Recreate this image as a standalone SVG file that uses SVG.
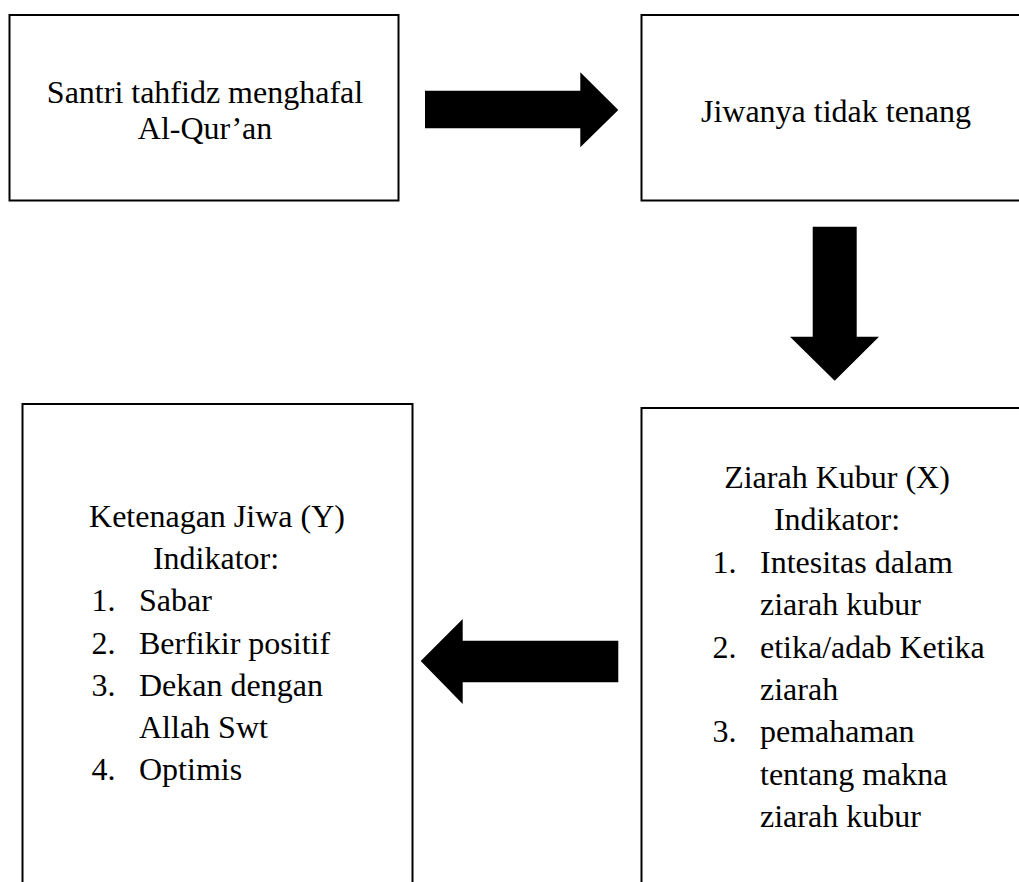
<svg xmlns="http://www.w3.org/2000/svg" width="1019" height="882" viewBox="0 0 1019 882">
<style>
.box{fill:#fff;stroke:#000;stroke-width:2}
.t{font-family:"Liberation Serif","Times New Roman",serif;font-size:32px;fill:#000}
.c{text-anchor:middle}
.arrow{fill:#000;stroke:none}
</style>
<rect x="0" y="0" width="1019" height="882" fill="#fff"/>
<g id="node-santri">
<rect class="box" x="9.5" y="15" width="389" height="185.5"/>
<text class="t c" x="205" y="102.5">Santri tahfidz menghafal</text>
<text class="t c" x="205" y="139">Al-Qur’an</text>
</g>
<g id="node-jiwa">
<rect class="box" x="641.5" y="15" width="400" height="185.5"/>
<text class="t c" x="836" y="121.5">Jiwanya tidak tenang</text>
</g>
<g id="node-ziarah">
<rect class="box" x="641.5" y="408" width="400" height="500"/>
<text class="t c" x="837" y="488">Ziarah Kubur (X)</text>
<text class="t c" x="837" y="530">Indikator:</text>
<text class="t" x="712.5" y="573">1.</text>
<text class="t" x="760" y="573">Intesitas dalam</text>
<text class="t" x="760" y="615">ziarah kubur</text>
<text class="t" x="712.5" y="658">2.</text>
<text class="t" x="760" y="658">etika/adab Ketika</text>
<text class="t" x="760" y="700">ziarah</text>
<text class="t" x="712.5" y="742">3.</text>
<text class="t" x="760" y="742">pemahaman</text>
<text class="t" x="760" y="785">tentang makna</text>
<text class="t" x="760" y="827">ziarah kubur</text>
</g>
<g id="node-ketenangan">
<rect class="box" x="22.5" y="404" width="390" height="500"/>
<text class="t c" x="217" y="527">Ketenagan Jiwa (Y)</text>
<text class="t c" x="216" y="569">Indikator:</text>
<text class="t" x="91.5" y="611">1.</text>
<text class="t" x="139" y="611">Sabar</text>
<text class="t" x="91.5" y="654">2.</text>
<text class="t" x="139" y="654">Berfikir positif</text>
<text class="t" x="91.5" y="696">3.</text>
<text class="t" x="139" y="696">Dekan dengan</text>
<text class="t" x="139" y="738">Allah Swt</text>
<text class="t" x="91.5" y="780">4.</text>
<text class="t" x="139" y="780">Optimis</text>
</g>
<g id="connectors">
<polygon class="arrow" points="425,90.7 580.3,90.7 580.3,72.3 618.3,110 580.3,147.3 580.3,128.3 425,128.3"/>
<polygon class="arrow" points="812.7,226.7 856.7,226.7 856.7,336.7 879,336.7 834.7,380.7 790,336.7 812.7,336.7"/>
<polygon class="arrow" points="618.3,640.7 462.7,640.7 462.7,619 420.7,661 462.7,704 462.7,682.3 618.3,682.3"/>
</g>
</svg>
